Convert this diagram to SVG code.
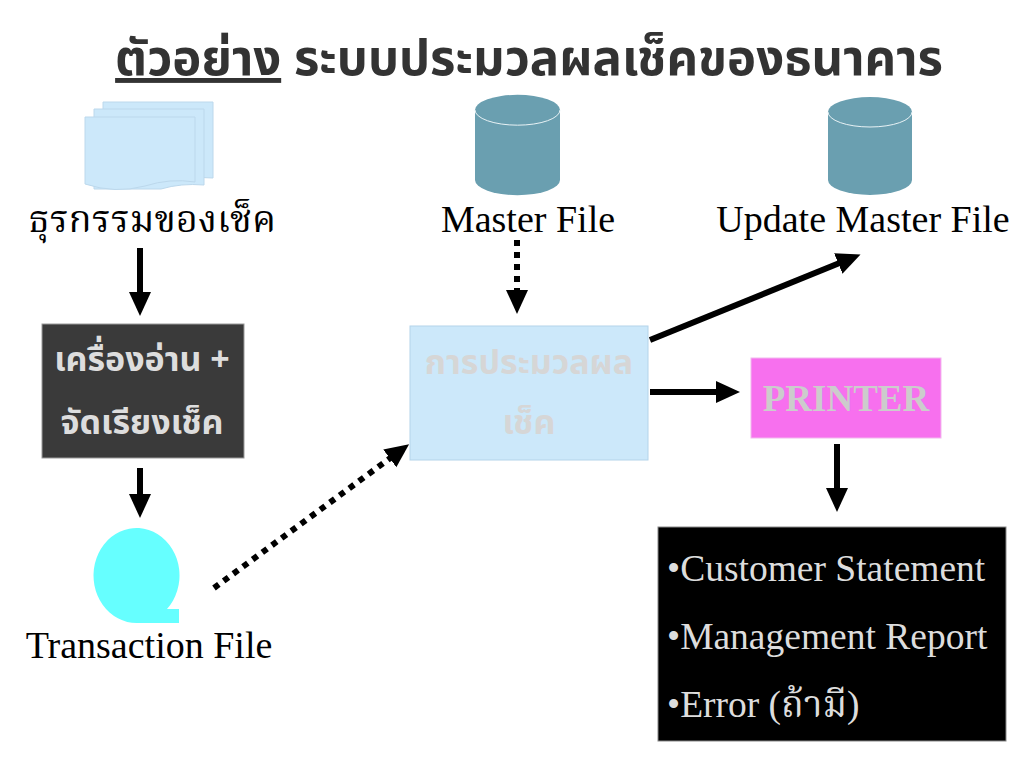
<svg xmlns="http://www.w3.org/2000/svg" width="1024" height="768" viewBox="0 0 1024 768">
<defs>
<style>
.lbl{font-family:"Liberation Serif","Noto Serif Thai","Noto Sans Thai","DejaVu Serif",serif;font-size:38px;fill:#000;}
.thai{font-family:"Noto Sans Thai","Noto Sans","DejaVu Sans",sans-serif;font-weight:bold;font-size:34px;}
.conn{stroke:#000;stroke-width:6;fill:none;}
.dot{stroke-dasharray:6 6;}
.cyl{fill:#6A9FB0;}
.rep{font-family:"Liberation Serif","Noto Serif Thai","DejaVu Serif",serif;font-size:37.5px;fill:#dddddd;}
</style>
<marker id="ah" markerUnits="userSpaceOnUse" markerWidth="24" markerHeight="24" viewBox="0 0 24 24" refX="4" refY="12" orient="auto">
<path d="M0,1 L24,12 L0,23 Z" fill="#000"/>
</marker>
</defs>
<rect width="1024" height="768" fill="#fff"/>
<g id="title">
<text x="529" y="75" text-anchor="middle" style="font-family:'Noto Sans Thai','Noto Sans','DejaVu Sans',sans-serif;font-weight:bold;font-size:49px;fill:#333;"><tspan text-decoration="underline">ตัวอย่าง</tspan> ระบบประมวลผลเช็คของธนาคาร</text>
</g>
<g id="cheques">
<path d="M103,102 H213 V178 Q190,176 170,182 L103,182 Z" fill="#CCE8FA" stroke="#bcd8ec" stroke-width="1"/>
<path d="M94,109 H204 V185 Q181,183 161,189 L94,189 Z" fill="#CCE8FA" stroke="#bcd8ec" stroke-width="1"/>
<path d="M85,117 H195 V182 Q170,178 145,186 Q115,194 85,184 Z" fill="#CCE8FA" stroke="#bcd8ec" stroke-width="1"/>
<text class="lbl" x="152" y="232" text-anchor="middle">ธุรกรรมของเช็ค</text>
</g>
<g id="reader">
<rect x="42" y="324" width="202" height="134" fill="#3a3a3a" stroke="#9a9a9a" stroke-width="1"/>
<text class="thai" x="142" y="371" text-anchor="middle" fill="#dddddd">เครื่องอ่าน +</text>
<text class="thai" x="142" y="434" text-anchor="middle" fill="#dddddd">จัดเรียงเช็ค</text>
</g>
<g id="transaction">
<path d="M137,623 A43,47.5 0 1 1 167,609 L179,609 L179,623 Z" fill="#66FFFF"/>
<text class="lbl" x="149" y="658" text-anchor="middle">Transaction File</text>
</g>
<g id="master">
<path d="M475,110 A42,15 0 0 1 560,110 V180 A42,15 0 0 1 475,180 Z" class="cyl"/>
<path d="M475,110 A42,15 0 0 0 560,110" fill="none" stroke="#e8f2f5" stroke-width="1"/>
<text class="lbl" x="528" y="232" text-anchor="middle">Master File</text>
</g>
<g id="update">
<path d="M828,112 A42,15 0 0 1 912,112 V180 A42,15 0 0 1 828,180 Z" class="cyl"/>
<path d="M828,112 A42,15 0 0 0 912,112" fill="none" stroke="#e8f2f5" stroke-width="1"/>
<text class="lbl" x="863" y="232" text-anchor="middle">Update Master File</text>
</g>
<g id="process">
<rect x="410" y="326" width="238" height="134" fill="#CCE8FA" stroke="#b4d4ea" stroke-width="1"/>
<text class="thai" x="529" y="374" text-anchor="middle" fill="#d6d6d6">การประมวลผล</text>
<text class="thai" x="529" y="434" text-anchor="middle" fill="#d6d6d6">เช็ค</text>
</g>
<g id="printer">
<rect x="751" y="358" width="190" height="80" fill="#F770EE" stroke="#f2b8ee" stroke-width="1"/>
<text x="846" y="411" text-anchor="middle" style="font-family:'Liberation Serif',serif;font-weight:bold;font-size:37px;fill:#cccccc;">PRINTER</text>
</g>
<g id="reports">
<rect x="658" y="527" width="348" height="214" fill="#000" stroke="#888" stroke-width="1"/>
<text class="rep" x="667" y="581">•Customer Statement</text>
<text class="rep" x="667" y="649">•Management Report</text>
<text class="rep" x="667" y="717">•Error (ถ้ามี)</text>
</g>
<g id="connectors">
<line class="conn" x1="140" y1="248" x2="140" y2="296" marker-end="url(#ah)"/>
<line class="conn" x1="140" y1="468" x2="140" y2="498" marker-end="url(#ah)"/>
<line class="conn dot" x1="214" y1="588" x2="393" y2="456" marker-end="url(#ah)"/>
<line class="conn dot" x1="517" y1="240" x2="517" y2="294" marker-end="url(#ah)"/>
<line class="conn" x1="650" y1="340" x2="842" y2="262" marker-end="url(#ah)"/>
<line class="conn" x1="650" y1="392" x2="720" y2="392" marker-end="url(#ah)"/>
<line class="conn" x1="837" y1="444" x2="837" y2="492" marker-end="url(#ah)"/>
</g>
</svg>
